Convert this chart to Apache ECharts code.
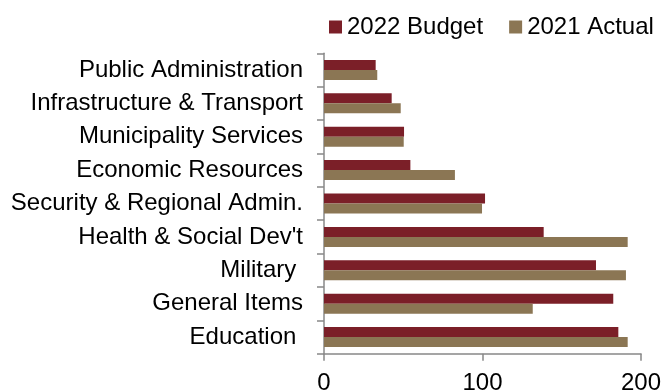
<!DOCTYPE html>
<html>
<head>
<meta charset="utf-8">
<script src="https://cdn.jsdelivr.net/npm/echarts@6/dist/echarts.min.js"></script>
<style>
  html, body { margin: 0; padding: 0; background: #ffffff; }
  #chart { width: 661px; height: 391px; }
</style>
</head>
<body>
<div id="chart"></div>
<script>
// Spending categories, listed top to bottom
const categories = [
  'Public Administration',
  'Infrastructure & Transport',
  'Municipality Services',
  'Economic Resources',
  'Security & Regional Admin.',
  "Health & Social Dev't",
  'Military ',
  'General Items',
  'Education '
];
const budget2022 = [32.6, 42.7, 50.5, 54.5, 101.6, 138.6, 171.6, 182.5, 185.7];
const actual2021 = [33.6, 48.4, 50.3, 82.6, 99.7, 191.6, 190.5, 131.7, 191.6];
const xTicks = [0, 100, 200];

const FONT = 'Liberation Sans, Arial, sans-serif';
const chart = echarts.init(document.getElementById('chart'), null, { renderer: 'canvas' });

chart.setOption({
  animation: false,
  textStyle: { fontFamily: FONT },
  legend: {
    top: 10,
    left: 324,
    itemWidth: 13,
    itemHeight: 13,
    itemGap: 26,
    icon: 'rect',
    textStyle: { fontSize: 24, color: '#000', fontFamily: FONT },
    data: ['2022 Budget', '2021 Actual']
  },
  grid: {
    left: 324, right: 20, top: 53.3, bottom: 37.3,
    containLabel: false,
    outerBoundsMode: 'none'
  },
  xAxis: {
    type: 'value',
    min: xTicks[0],
    max: xTicks[xTicks.length - 1],
    interval: 100,
    axisLine: { show: true, lineStyle: { color: '#888888', width: 1.5 } },
    axisTick: { show: true, length: 7, lineStyle: { color: '#888888', width: 1.5 } },
    splitLine: { show: false },
    axisLabel: { fontSize: 24, color: '#000', margin: 18, fontFamily: FONT }
  },
  yAxis: {
    type: 'category',
    inverse: true,
    data: categories,
    axisLine: { show: true, lineStyle: { color: '#888888', width: 1.5 } },
    axisTick: { show: true, length: 7, lineStyle: { color: '#888888', width: 1.5 } },
    axisLabel: { fontSize: 24, color: '#000', margin: 21, fontFamily: FONT }
  },
  series: [
    {
      name: '2022 Budget',
      type: 'bar',
      data: budget2022,
      barWidth: 10,
      barGap: '0%',
      itemStyle: { color: '#7B1F28' }
    },
    {
      name: '2021 Actual',
      type: 'bar',
      data: actual2021,
      barWidth: 10,
      barGap: '0%',
      itemStyle: { color: '#8B7654' }
    }
  ]
});
</script>
</body>
</html>
